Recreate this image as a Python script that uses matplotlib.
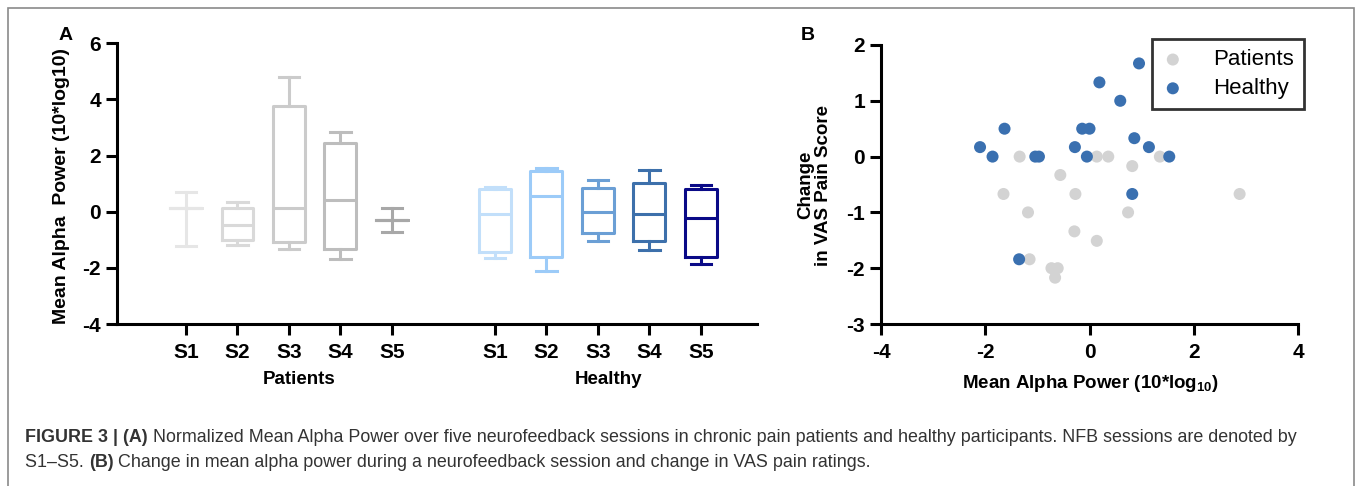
import numpy as np
import matplotlib
matplotlib.use("Agg")
import matplotlib.pyplot as plt
from matplotlib.patches import Rectangle

plt.rcParams['font.family'] = ['Liberation Sans', 'DejaVu Sans']
plt.rcParams['axes.unicode_minus'] = False
plt.rcParams['mathtext.fontset'] = 'custom'
plt.rcParams['mathtext.rm'] = 'Liberation Sans:bold'
plt.rcParams['mathtext.it'] = 'Liberation Sans:bold'
plt.rcParams['mathtext.bf'] = 'Liberation Sans:bold'

# panel A: box stats per session (whisker low, q1, median, q3, whisker high)
sessions = ["S1", "S2", "S3", "S4", "S5"]
pat_lo = [-1.21, -1.19, -1.34, -1.67, -0.73]
pat_q1 = [0.12, -1.01, -1.09, -1.34, -0.31]
pat_med = [0.12, -0.47, 0.12, 0.42, -0.31]
pat_q3 = [0.12, 0.14, 3.77, 2.44, -0.31]
pat_hi = [0.71, 0.36, 4.81, 2.85, 0.14]

hea_lo = [-1.64, -2.11, -1.04, -1.36, -1.86]
hea_q1 = [-1.42, -1.60, -0.75, -1.03, -1.60]
hea_med = [-0.08, 0.57, 0.00, -0.08, -0.21]
hea_q3 = [0.81, 1.46, 0.86, 1.04, 0.80]
hea_hi = [0.87, 1.55, 1.13, 1.49, 0.95]

pat_colors = ["#e6e6e6", "#d9d9d9", "#cbcbcb", "#bdbdbd", "#a8a8a8"]
hea_colors = ["#c2dffa", "#9ccbf8", "#6b9fd5", "#3d70ab", "#0a0a87"]

# panel B: alpha power change vs VAS change
pat_x = [-1.34, -1.65, -0.56, -0.27, -1.18, -1.15, -0.29, 0.14, -0.73, -0.61,
         -0.66, 0.14, 0.36, 0.82, 0.74, 1.35, 2.88]
pat_y = [0, -0.67, -0.33, -0.67, -1.0, -1.84, -1.34, -1.51, -2.0, -2.0,
         -2.17, 0, 0, -0.17, -1.0, 0, -0.67]
hea_x = [0.95, 0.19, 0.59, -1.63, -0.14, 0.0, -2.10, -1.86, -1.04, -0.97,
         -0.28, -0.05, 0.86, 1.14, 1.53, 0.82, -1.35]
hea_y = [1.67, 1.33, 1.0, 0.5, 0.5, 0.5, 0.17, 0, 0, 0,
         0.17, 0, 0.33, 0.17, 0, -0.67, -1.84]

W, H = 1357, 486
fig = plt.figure(figsize=(W / 100, H / 100), dpi=100)

# outer frame
fig.patches.append(Rectangle((8 / W, -0.01), (1354 - 8) / W, 1 - 8 / H + 0.01,
                             transform=fig.transFigure, fill=False,
                             edgecolor="#8a8a8a", linewidth=1.2))

lw = 2.2
tick_kw = dict(direction="out", length=8, width=lw, labelsize=15)


def style_axes(ax):
    for s in ["top", "right"]:
        ax.spines[s].set_visible(False)
    for s in ["left", "bottom"]:
        ax.spines[s].set_linewidth(lw)
    ax.tick_params(**tick_kw)
    for lab in ax.get_xticklabels() + ax.get_yticklabels():
        lab.set_fontweight("bold")


# ---- panel A
axA = fig.add_axes([117 / W, 1 - 324 / H, (757 - 117) / W, (324 - 43.3) / H])
pos_p = np.arange(1, 6)
pos_h = np.arange(7, 12)
stats = []
for i in range(5):
    stats.append(dict(whislo=pat_lo[i], q1=pat_q1[i], med=pat_med[i],
                      q3=pat_q3[i], whishi=pat_hi[i], fliers=[]))
for i in range(5):
    stats.append(dict(whislo=hea_lo[i], q1=hea_q1[i], med=hea_med[i],
                      q3=hea_q3[i], whishi=hea_hi[i], fliers=[]))
colors = pat_colors + hea_colors
positions = list(pos_p) + list(pos_h)
for st, c, p in zip(stats, colors, positions):
    axA.bxp([st], positions=[p], widths=0.62, capwidths=0.4, showfliers=False,
            boxprops=dict(color=c, linewidth=lw),
            whiskerprops=dict(color=c, linewidth=lw),
            capprops=dict(color=c, linewidth=lw),
            medianprops=dict(color=c, linewidth=lw))
axA.set_xlim(-0.34, 12.09)
axA.set_ylim(-4, 6)
axA.set_yticks([-4, -2, 0, 2, 4, 6])
axA.set_xticks(positions)
axA.set_xticklabels(sessions + sessions)
style_axes(axA)
axA.tick_params(axis="x", pad=6)
axA.text(3.2, -0.196, "Patients", transform=axA.get_xaxis_transform(),
         ha="center", va="center", fontsize=13.5, fontweight="bold")
axA.text(9.2, -0.196, "Healthy", transform=axA.get_xaxis_transform(),
         ha="center", va="center", fontsize=13.5, fontweight="bold")
fig.text(62 / W, 1 - 186 / H, "Mean Alpha  Power (10*log10)", rotation=90,
         ha="center", va="center", fontsize=14, fontweight="bold")
fig.text(66 / W, 1 - 35 / H, "A", ha="center", va="center", fontsize=14,
         fontweight="bold")

# ---- panel B
axB = fig.add_axes([881 / W, 1 - 324 / H, (1298 - 881) / W, (324 - 45) / H])
axB.scatter(pat_x, pat_y, s=75, color="#d3d3d3", edgecolors="none",
            label="Patients", zorder=2)
axB.scatter(hea_x, hea_y, s=75, color="#3a70b0", edgecolors="none",
            label="Healthy", zorder=3)
axB.set_xlim(-4, 4)
axB.set_ylim(-3, 2)
axB.set_xticks([-4, -2, 0, 2, 4])
axB.set_yticks([-3, -2, -1, 0, 1, 2])
style_axes(axB)
axB.tick_params(axis="x", pad=6)
leg = axB.legend(loc="upper right", bbox_to_anchor=(1.04, 1.06), fontsize=16,
                 frameon=True, fancybox=False, handletextpad=1.3,
                 borderpad=0.45, labelspacing=0.35, handlelength=1.0,
                 markerscale=1.0)
leg.get_frame().set_edgecolor("black")
leg.get_frame().set_linewidth(2)
fig.text(815 / W, 1 - 185 / H, "Change\nin VAS Pain Score", rotation=90,
         ha="center", va="center", fontsize=13.5, fontweight="bold",
         linespacing=1.05)
fig.text(1090 / W, 1 - 383 / H, r"Mean Alpha Power (10*log$_{10}$)",
         ha="center", va="center", fontsize=13.5, fontweight="bold")
fig.text(808 / W, 1 - 35 / H, "B", ha="center", va="center", fontsize=14,
         fontweight="bold")

# ---- caption
cap_col = "#333333"
cap_fs = 12.9
fig.canvas.draw()
rend = fig.canvas.get_renderer()


def caption_line(y, parts):
    x = 25
    for txt, bold in parts:
        t = fig.text(x / W, 1 - y / H, txt, ha="left", va="center",
                     fontsize=cap_fs, color=cap_col,
                     fontweight="bold" if bold else "normal")
        bb = t.get_window_extent(renderer=rend)
        x += bb.width


caption_line(437, [("FIGURE 3 | (A)", True),
                   (" Normalized Mean Alpha Power over five neurofeedback sessions in chronic pain "
                    "patients and healthy participants. NFB sessions are denoted by", False)])
caption_line(462, [("S1\u2013S5. ", False), ("(B)", True),
                   (" Change in mean alpha power during a neurofeedback session and change in VAS pain ratings.", False)])

fig.savefig("out.png", dpi=100)
